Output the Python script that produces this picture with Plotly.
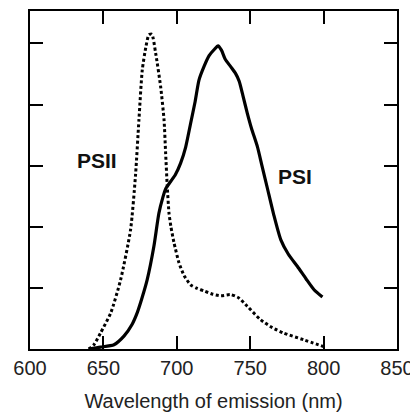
import plotly.graph_objects as go

# PSII emission (dotted)
psii_nm = [640, 643.5, 648, 655, 661.7, 668.5, 671.9, 674.2, 676.5, 679, 681, 683,
           685.6, 689, 691.3, 692.4, 693.5, 694.7, 696, 698, 701.5, 705, 709.4, 714,
           718.5, 724, 729.9, 736.7, 742, 748, 757, 765, 772.9, 786.5, 800]
psii_val = [0.0, 0.07, 0.26, 0.59, 1.13, 1.95, 2.85, 3.75, 4.57, 4.95, 5.14, 5.15,
            4.84, 4.29, 3.75, 3.2, 2.66, 2.22, 2.0, 1.75, 1.41, 1.2, 1.05, 0.99,
            0.95, 0.90, 0.87, 0.89, 0.84, 0.70, 0.48, 0.35, 0.26, 0.15, 0.04]

# PSI emission (solid)
psi_nm = [640, 648, 657.2, 664, 669.5, 673, 676.5, 679.8, 684.4, 687.8, 690.5, 692.4,
          695.8, 699, 702.6, 706, 709.4, 712.5, 715.1, 718.5, 722, 725.5, 728.1,
          730.4, 733, 736.7, 740, 742.5, 745, 748, 751, 754.9, 758, 761.7, 766,
          770.8, 776, 782.2, 788, 793.5, 799.2]
psi_val = [0.0, 0.03, 0.07, 0.21, 0.40, 0.59, 0.85, 1.13, 1.68, 2.22, 2.48, 2.62,
           2.74, 2.85, 3.04, 3.3, 3.69, 4.05, 4.40, 4.62, 4.80, 4.90, 4.96,
           4.89, 4.74, 4.62, 4.51, 4.38, 4.15, 3.86, 3.6, 3.31, 3.0, 2.63, 2.2,
           1.79, 1.55, 1.35, 1.15, 0.97, 0.85]

x_ticks = [600, 650, 700, 750, 800, 850]
y_ticks = [1, 2, 3, 4, 5]

labels = [("PSII", 645.7, 3.09), ("PSI", 780.7, 2.82)]

fig = go.Figure()
fig.add_trace(go.Scatter(x=psii_nm, y=psii_val, mode="lines",
                         line=dict(color="black", width=3, dash="3px,2.5px",
                                   shape="spline", smoothing=0.6),
                         showlegend=False, hoverinfo="skip"))
fig.add_trace(go.Scatter(x=psi_nm, y=psi_val, mode="lines",
                         line=dict(color="black", width=3.2,
                                   shape="spline", smoothing=0.6),
                         showlegend=False, hoverinfo="skip"))

for txt, lx, ly in labels:
    fig.add_annotation(x=lx, y=ly, text=f"<b>{txt}</b>", showarrow=False,
                       font=dict(family="Liberation Sans, Arial, sans-serif",
                                 size=21, color="#111"))

fig.update_layout(
    width=410, height=406,
    margin=dict(l=22, r=21, t=3, b=65),
    paper_bgcolor="white", plot_bgcolor="white",
    font=dict(family="Liberation Sans, Arial, sans-serif", size=20, color="#222"),
    xaxis=dict(range=[600, 850], tickvals=x_ticks, ticks="inside", ticklen=13,
               tickwidth=1.5, tickcolor="black", showline=True, linecolor="black",
               linewidth=2, mirror="ticks", showgrid=False, zeroline=False,
               automargin=False,
               title=dict(text="Wavelength of emission (nm)", standoff=16,
                          font=dict(size=20))),
    yaxis=dict(range=[0, 5.53], tickvals=y_ticks, showticklabels=False,
               ticks="inside", ticklen=13, tickwidth=1.5, tickcolor="black",
               showline=True, linecolor="black", linewidth=2, mirror="ticks",
               showgrid=False, zeroline=False, automargin=False),
)

fig.write_html("out.html")
